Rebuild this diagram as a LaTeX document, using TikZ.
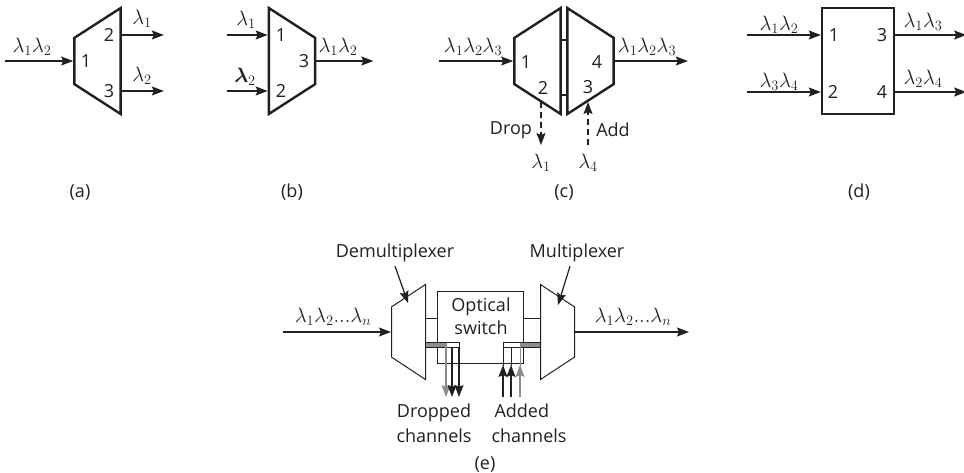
\documentclass[tikz,border=0pt]{standalone}
\usepackage{fontspec}
\usepackage{amsmath}
\usepackage{xcolor}
\usetikzlibrary{shapes.geometric, arrows.meta, positioning}
\setmainfont{Open Sans}
\definecolor{InkBlack}{HTML}{231F20}
\definecolor{ChanGray}{HTML}{8C8C8C}

\begin{document}
\begin{tikzpicture}[
  x=1pt, y=-1pt,
  every node/.style = {font=\fontsize{18}{23}\selectfont, text=InkBlack, inner sep=0pt},
  device/.style = {
    trapezium, trapezium angle=57.2,
    minimum width=106pt, minimum height=46pt, inner sep=1pt,
    draw=InkBlack, line width=2.4pt, line join=miter
  },
  demuxblock/.style = {device, shape border rotate=90},
  muxblock/.style   = {device, shape border rotate=270},
  thindemux/.style  = {demuxblock, line width=1pt, trapezium stretches=true, minimum width=95pt, minimum height=34pt, trapezium angle=66},
  thinmux/.style    = {muxblock, line width=1pt, trapezium stretches=true, minimum width=95pt, minimum height=34pt, trapezium angle=66},
  arr/.style     = {-{Stealth[length=12pt, width=9pt, inset=2pt]}, line width=1.2pt, color=InkBlack},
  dasharr/.style = {arr, dash pattern=on 6pt off 4pt},
  grayarr/.style = {arr, color=ChanGray},
  lbl/.style     = {font=\fontsize{20.74}{22}\selectfont},
  wire/.style    = {line width=1pt, color=InkBlack},
]
\useasboundingbox (0,0) rectangle (964,473);

% Demultiplexer (a)
\node[demuxblock] (dema) at (97.5,61) {};
\node (a1) at (86,61) {1};
\node (a2) at (109,35) {2};
\node (a3) at (109,91) {3};
\node[lbl] (alam) at (32,47) {$\lambda_1\lambda_2$};
\node[lbl] (alam1) at (142,19) {$\lambda_1$};
\node[lbl] (alam2) at (142,76) {$\lambda_2$};
\node (acap) at (80,192) {(a)};
\draw[arr] ([xshift=-68pt]dema.west) -- (dema.west);
\draw[arr] (dema.east |- a2) -- ++(42,0);
\draw[arr] (dema.east |- a3) -- ++(42,0);

% Multiplexer (b)
\node[muxblock] (muxb) at (292,61) {};
\node (b1) at (281,35) {1};
\node (b2) at (281,91) {2};
\node (b3) at (304,61) {3};
\node[lbl] (blam1) at (246,20) {$\lambda_1$};
\node[lbl] (blam2) at (245,77) {$\boldsymbol{\lambda}_2$};
\node[lbl] (blam) at (338,47) {$\lambda_1\lambda_2$};
\node (bcap) at (292,192) {(b)};
\draw[arr] ([xshift=-41pt]muxb.west |- b1) -- (muxb.west |- b1);
\draw[arr] ([xshift=-41pt]muxb.west |- b2) -- (muxb.west |- b2);
\draw[arr] (muxb.east) -- ++(57,0);

% Add/drop (c)
\node[demuxblock] (demc) at (537.5,61) {};
\node[muxblock] (muxc) at (590.5,61) {};
\node (c1) at (526,62) {1};
\node (c2) at (543,88) {2};
\node (c3) at (588,87) {3};
\node (c4) at (597,62) {4};
\node[lbl] (clamin) at (473,47) {$\lambda_1\lambda_2\lambda_3$};
\node[lbl] (clamout) at (647,47) {$\lambda_1\lambda_2\lambda_3$};
\node (cdrop) at (511,130) {Drop};
\node (cadd) at (613,130) {Add};
\node[lbl] (clam1) at (541,163) {$\lambda_1$};
\node[lbl] (clam4) at (588,163) {$\lambda_4$};
\node (ccap) at (564,192) {(c)};
\draw[arr] ([xshift=-74pt]demc.west) -- (demc.west);
\draw[arr] (muxc.east) -- ++(73,0);
\draw[line width=2.4pt, color=InkBlack] (demc.east |- 0,40) -- (muxc.west |- 0,40);
\draw[line width=2.4pt, color=InkBlack] (demc.east |- 0,95) -- (muxc.west |- 0,95);
\draw[dasharr] (541,102) -- (clam1 |- 0,145);
\draw[dasharr] (clam4 |- 0,145) -- (588,102);

% Switch (d)
\node[draw=InkBlack, line width=2.4pt, minimum width=72pt, minimum height=106pt] (swd) at (858,61) {};
\node (d1) at (834,35) {1};
\node (d2) at (833,92) {2};
\node (d3) at (882,35) {3};
\node (d4) at (882,92) {4};
\node[lbl] (dlam12) at (779,25) {$\lambda_1\lambda_2$};
\node[lbl] (dlam34) at (779,82) {$\lambda_3\lambda_4$};
\node[lbl] (dlam13) at (923,22) {$\lambda_1\lambda_3$};
\node[lbl] (dlam24) at (923,79) {$\lambda_2\lambda_4$};
\node (dcap) at (859,192) {(d)};
\draw[arr] ([xshift=-74pt]swd.west |- d1) -- (swd.west |- d1);
\draw[arr] ([xshift=-74pt]swd.west |- d2) -- (swd.west |- d2);
\draw[arr] (swd.east |- d3) -- ++(71,0);
\draw[arr] (swd.east |- d4) -- ++(71,0);

% OADM (e)
\node[thindemux] (deme) at (408.5,332) {};
\node[thinmux] (muxe) at (557.5,332) {};
\node[draw=InkBlack, line width=1pt, minimum width=86pt, minimum height=72pt] (opt) at (480.5,327.5) {};
\node (optlbl) at (481,318) {\begin{tabular}{@{}c@{}}Optical\\switch\end{tabular}};
\node (demlbl) at (395,253) {Demultiplexer};
\node (muxlbl) at (577,253) {Multiplexer};
\node[lbl] (elamin) at (333,317) {$\lambda_1\lambda_2{.}{.}{.}\lambda_n$};
\node[lbl] (elamout) at (633,317) {$\lambda_1\lambda_2{.}{.}{.}\lambda_n$};
\node (droplbl) at (434,425) {\begin{tabular}{@{}c@{}}Dropped\\[2pt]channels\end{tabular}};
\node (addlbl) at (529,425) {\begin{tabular}{@{}l@{}}\hspace{3pt}Added\\[2pt]channels\end{tabular}};
\node (ecap) at (485,464) {(e)};
\draw[arr] ([xshift=-108pt]deme.west) -- (deme.west);
\draw[arr] (muxe.east) -- ++(114,0);
\draw[arr] ([yshift=-4pt]demlbl.south) -- (408,303);
\draw[arr] ([xshift=-7pt,yshift=-4pt]muxlbl.south) -- (558,305);
% upper lines to the switch
\draw[wire] (deme.east |- 0,318) -- (opt.west |- 0,318);
\draw[wire] (opt.east |- 0,318) -- (muxe.west |- 0,318);
% dropped channels
\fill[ChanGray] (deme.east |- 0,342) rectangle (447,347);
\draw[wire] (deme.east |- 0,342) -| (459,347) -- (deme.east |- 0,347);
\draw[grayarr] (446,347) -- (446,397);
\draw[arr] (452,347) -- (452,397);
\draw[arr] (459,347) -- (459,397);
% added channels
\fill[ChanGray] (520,342) rectangle (muxe.west |- 0,347);
\draw[wire] (muxe.west |- 0,342) -| (503,347) -- (muxe.west |- 0,347);
\draw[wire, color=ChanGray] (520,347) -- (520,366);
\draw[wire] (511,347) -- (511,366);
\draw[wire] (503,347) -- (503,366);
\draw[grayarr] (520,397) -- (520,365);
\draw[arr] (511,397) -- (511,365);
\draw[arr] (503,397) -- (503,365);

\end{tikzpicture}
\end{document}
